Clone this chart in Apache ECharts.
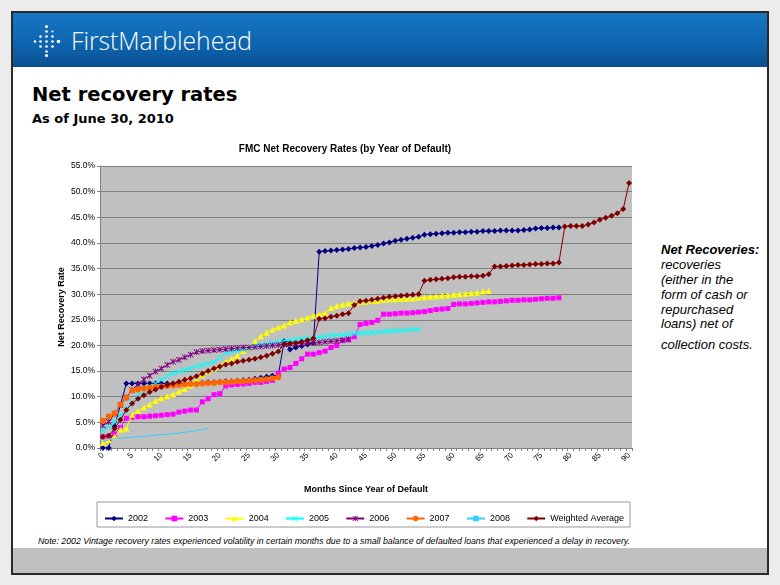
<!DOCTYPE html>
<html>
<head>
<meta charset="utf-8">
<script src="https://cdn.jsdelivr.net/npm/echarts/dist/echarts.min.js"></script>
<style>
html,body{margin:0;padding:0;background:#ececec;}
#wrap{position:relative;width:780px;height:585px;overflow:hidden;}
#bg{position:absolute;left:0;top:0;}
#chart{position:absolute;left:0;top:0;width:780px;height:585px;}
</style>
</head>
<body>
<div id="wrap">
<svg id="bg" width="780" height="585" xmlns="http://www.w3.org/2000/svg">
  <defs>
    <linearGradient id="hdr" x1="0" y1="0" x2="0" y2="1">
      <stop offset="0" stop-color="#1677c4"/>
      <stop offset="0.6" stop-color="#0e64ad"/>
      <stop offset="1" stop-color="#0a4f92"/>
    </linearGradient>
  </defs>
  <rect x="0" y="0" width="780" height="585" fill="#ececec"/>
  <rect x="12" y="12" width="756" height="562" fill="#ffffff" stroke="#2a2a2a" stroke-width="2"/>
  <rect x="13" y="13" width="754" height="54" fill="url(#hdr)"/>
  <rect x="13" y="548" width="754" height="25" fill="#c0c0c0"/>
  <g fill="#ffffff">
    <circle cx="35" cy="41.5" r="1.3"/>
    <circle cx="40.5" cy="36.5" r="1.3"/><circle cx="40.5" cy="41.5" r="1.3"/><circle cx="40.5" cy="46.5" r="1.3"/>
    <circle cx="46.5" cy="26.5" r="1.5"/><circle cx="46.5" cy="31.5" r="1.3"/><circle cx="46.5" cy="36.5" r="1.3"/><circle cx="46.5" cy="41.5" r="1.3"/><circle cx="46.5" cy="46.5" r="1.3"/><circle cx="46.5" cy="51.5" r="1.3"/><circle cx="46.5" cy="55.5" r="1.6"/>
    <circle cx="52.5" cy="31.5" r="1.1"/><circle cx="52.5" cy="36.5" r="1.3"/><circle cx="52.5" cy="41.5" r="1.3"/><circle cx="52.5" cy="46.5" r="1.3"/>
    <circle cx="58.5" cy="41.5" r="1.8"/>
  </g>
  <text x="71" y="50" font-family="'Open Sans','Noto Sans',sans-serif" font-weight="300" font-size="25" fill="#ffffff" textLength="181" lengthAdjust="spacingAndGlyphs">FirstMarblehead</text>
  <text x="32" y="101" font-family="'DejaVu Sans',sans-serif" font-weight="bold" font-size="19.5" fill="#000">Net recovery rates</text>
  <text x="32" y="123" font-family="'DejaVu Sans',sans-serif" font-weight="bold" font-size="13" fill="#000">As of June 30, 2010</text>
  <g font-family="'Liberation Sans',Arial,sans-serif" font-size="13" font-style="italic" fill="#000">
    <text x="661" y="254" font-weight="bold">Net Recoveries:</text>
    <text x="661" y="269">recoveries</text>
    <text x="661" y="284">(either in the</text>
    <text x="661" y="299">form of cash or</text>
    <text x="661" y="313.5">repurchased</text>
    <text x="661" y="328">loans) net of</text>
    <text x="661" y="349">collection costs.</text>
  </g>
  <text x="38" y="544" font-family="'Liberation Sans',Arial,sans-serif" font-size="8.6" font-style="italic" fill="#000" textLength="592" lengthAdjust="spacingAndGlyphs">Note: 2002 Vintage recovery rates experienced volatility in certain months due to a small balance of defaulted loans that experienced a delay in recovery.</text>
</svg>
<div id="chart"></div>
</div>
<script>
// Categories: months since year of default
var months = [];
for (var i = 0; i <= 90; i++) months.push(String(i));

// Y axis (percent)
var yMin = 0, yMax = 55, yStep = 5;

// Series values (net recovery rate, %)
var s2002 = [0,0,4.2,8.4,12.6,12.6,12.6,12.6,12.6,12.6,
  12.6,12.6,12.6,12.6,12.6,12.6,12.6,12.7,12.8,12.8,
  12.9,13.0,13.0,13.1,13.2,13.3,13.5,13.7,13.9,14.1,
  14.2,20.8,19.2,19.6,19.9,20.2,20.5,38.3,38.4,38.5,
  38.6,38.7,38.8,39.0,39.1,39.2,39.4,39.6,39.9,40.1,
  40.4,40.6,40.8,41.0,41.2,41.6,41.7,41.8,41.9,42.0,
  42.0,42.1,42.1,42.2,42.2,42.3,42.3,42.3,42.4,42.4,
  42.4,42.4,42.5,42.6,42.8,42.9,42.9,43.0,43.0];
var s2003 = [2.2,2.3,2.7,4.0,5.8,6.0,6.1,6.1,6.2,6.3,
  6.4,6.5,6.6,7.0,7.2,7.4,7.4,9.0,9.6,10.4,
  10.6,12.1,12.3,12.4,12.5,12.6,12.8,12.8,13.0,13.2,
  14.6,15.4,15.7,16.5,17.4,18.3,18.3,18.6,18.9,19.6,
  20.0,21.0,21.1,21.7,24.1,24.3,24.5,24.9,26.1,26.1,
  26.2,26.3,26.3,26.4,26.5,26.6,26.8,27.0,27.1,27.2,
  28.0,28.1,28.1,28.2,28.3,28.4,28.5,28.5,28.6,28.7,
  28.8,28.8,28.9,28.9,29.0,29.1,29.2,29.2,29.3];
var s2004 = [1.0,1.5,2.2,3.6,3.8,6.5,7.2,7.9,8.5,9.2,
  9.7,10.1,10.5,11.0,11.5,12.2,13.4,14.3,14.9,15.5,
  16.1,16.8,17.4,18.0,18.9,19.6,20.8,21.8,22.5,23.1,
  23.5,23.9,24.5,24.8,25.1,25.4,25.8,26.1,26.3,27.3,
  27.7,28.0,28.2,28.3,28.5,28.5,28.7,28.7,28.9,29.0,
  29.0,29.1,29.1,29.2,29.3,29.4,29.5,29.6,29.7,29.8,
  29.9,30.0,30.1,30.2,30.3,30.5,30.6];
var s2005 = [3.4,4.2,5.1,6.4,7.7,9.0,10.2,11.2,12.0,12.6,
  13.3,14.0,14.6,14.9,15.2,15.5,15.9,16.2,16.5,16.8,
  17.5,18.5,18.8,19.0,19.2,19.5,19.9,20.1,20.3,20.5,
  20.7,20.9,21.0,21.2,21.3,21.4,21.5,21.6,21.8,21.9,
  22.0,22.1,22.2,22.3,22.4,22.5,22.5,22.6,22.7,22.8,
  22.9,22.9,23.0,23.1,23.1];
var s2006 = [4.4,5.1,6.7,8.4,9.9,11.3,12.4,13.4,14.1,14.9,
  15.5,16.2,16.8,17.2,17.7,18.2,18.7,18.9,19.0,19.1,
  19.2,19.3,19.4,19.5,19.6,19.6,19.7,19.8,19.9,20.0,
  20.1,20.2,20.3,20.3,20.4,20.5,20.6,20.6,20.7,20.8,
  20.9,21.0,21.2];
var s2007 = [5.3,6.2,6.8,8.5,9.8,11.2,11.4,11.6,11.8,11.9,
  12.0,12.1,12.2,12.3,12.4,12.5,12.5,12.6,12.7,12.7,
  12.8,12.8,12.9,13.0,13.0,13.1,13.2,13.3,13.4,13.6,
  13.8];
var s2008 = [1.2,1.6,1.8,1.9,2.0,2.1,2.2,2.3,2.4,2.5,
  2.6,2.7,2.8,2.9,3.1,3.2,3.4,3.6,3.8];
var sWA = [2.2,2.4,3.8,5.5,7.4,8.7,9.6,10.3,10.9,11.4,
  11.9,12.3,12.6,12.9,13.3,13.6,14.0,14.5,15.0,15.5,
  15.9,16.3,16.5,16.8,17.0,17.2,17.4,17.7,18.0,18.4,
  18.8,20.3,20.4,20.5,20.7,21.0,21.4,25.2,25.3,25.6,
  25.8,26.1,26.3,27.9,28.6,28.7,28.9,29.1,29.3,29.5,
  29.6,29.7,29.8,29.9,30.0,32.6,32.8,32.9,33.0,33.1,
  33.3,33.4,33.4,33.5,33.5,33.6,33.9,35.4,35.4,35.5,
  35.6,35.7,35.7,35.8,35.9,35.9,36.0,36.0,36.2,43.2,
  43.3,43.3,43.3,43.6,44.0,44.5,44.9,45.3,45.8,46.6,
  51.7];

var seriesNames = ['2002','2003','2004','2005','2006','2007','2008','Weighted Average'];
var seriesData = [s2002, s2003, s2004, s2005, s2006, s2007, s2008, sWA];
var colors = ['#000080','#FF00FF','#FFFF00','#00FFFF','#800080','#FF6600','#33CCFF','#800000'];
var xSym = 'path://M0,1L1,0L5,4L9,0L10,1L6,5L10,9L9,10L5,6L1,10L0,9L4,5Z';
var starSym = 'path://M0,1L1,0L5,4L9,0L10,1L6,5L10,9L9,10L5,6L1,10L0,9L4,5ZM4.3,0L5.7,0L5.7,10L4.3,10Z';
var dashSym = 'path://M0,0L10,0L10,2L0,2Z';
var symbols = ['diamond','rect','triangle',xSym,starSym,'circle',dashSym,'diamond'];
var sizes = [6,5,6,6,6,6,[6,1.5],6];

var FONT = "'Liberation Sans', Arial, sans-serif";

var series = seriesNames.map(function(n, k){
  return {
    name: n,
    type: 'line',
    data: seriesData[k],
    symbol: symbols[k],
    symbolSize: sizes[k],
    showSymbol: k !== 6,
    showAllSymbol: true,
    lineStyle: {color: colors[k], width: 1},
    itemStyle: {color: colors[k]},
    emphasis: {disabled: true},
    z: 2 + k
  };
});

var chart = echarts.init(document.getElementById('chart'), null, {renderer: 'canvas'});
chart.setOption({
  animation: false,
  backgroundColor: 'transparent',
  color: colors,
  grid: {left: 100, top: 166, width: 532, height: 282, show: true, backgroundColor: '#C0C0C0', borderWidth: 0},
  xAxis: {
    type: 'category',
    data: months,
    boundaryGap: true,
    axisLine: {lineStyle: {color: '#808080', width: 1}},
    axisTick: {show: true, interval: 0, length: 3, lineStyle: {color: '#808080'}},
    axisLabel: {interval: 4, rotate: 45, fontSize: 8, color: '#000', fontFamily: FONT, margin: 6},
    splitLine: {show: false}
  },
  yAxis: {
    type: 'value',
    min: yMin, max: yMax, interval: yStep,
    axisLine: {show: true, lineStyle: {color: '#808080', width: 1}},
    axisTick: {show: true, length: 3, lineStyle: {color: '#808080'}},
    axisLabel: {fontSize: 8.5, color: '#000', fontFamily: FONT, margin: 5,
      formatter: function(v){ return v.toFixed(1) + '%'; }},
    splitLine: {show: true, lineStyle: {color: '#808080', width: 1}}
  },
  legend: {
    data: seriesNames,
    left: 99, top: 509,
    itemWidth: 18, itemHeight: 7, itemGap: 16.3,
    textStyle: {fontSize: 9, color: '#000', fontFamily: FONT},
    z: 10
  },
  graphic: [
    {type: 'rect', z: 0, shape: {x: 97, y: 502, width: 533, height: 25}, style: {fill: '#ffffff', stroke: '#999999', lineWidth: 1}},
    {type: 'text', z: 5, style: {x: 345, y: 149, text: 'FMC Net Recovery Rates (by Year of Default)', fontSize: 10, fontWeight: 'bold', fontFamily: FONT, fill: '#000', align: 'center', verticalAlign: 'middle'}},
    {type: 'text', z: 5, style: {x: 366, y: 490, text: 'Months Since Year of Default', fontSize: 9, fontWeight: 'bold', fontFamily: FONT, fill: '#000', align: 'center', verticalAlign: 'middle'}},
    {type: 'text', z: 5, x: 62, y: 307, rotation: Math.PI / 2, style: {x: 0, y: 0, text: 'Net Recovery Rate', fontSize: 9, fontWeight: 'bold', fontFamily: FONT, fill: '#000', align: 'center', verticalAlign: 'middle'}}
  ],
  series: series
});
</script>
</body>
</html>
